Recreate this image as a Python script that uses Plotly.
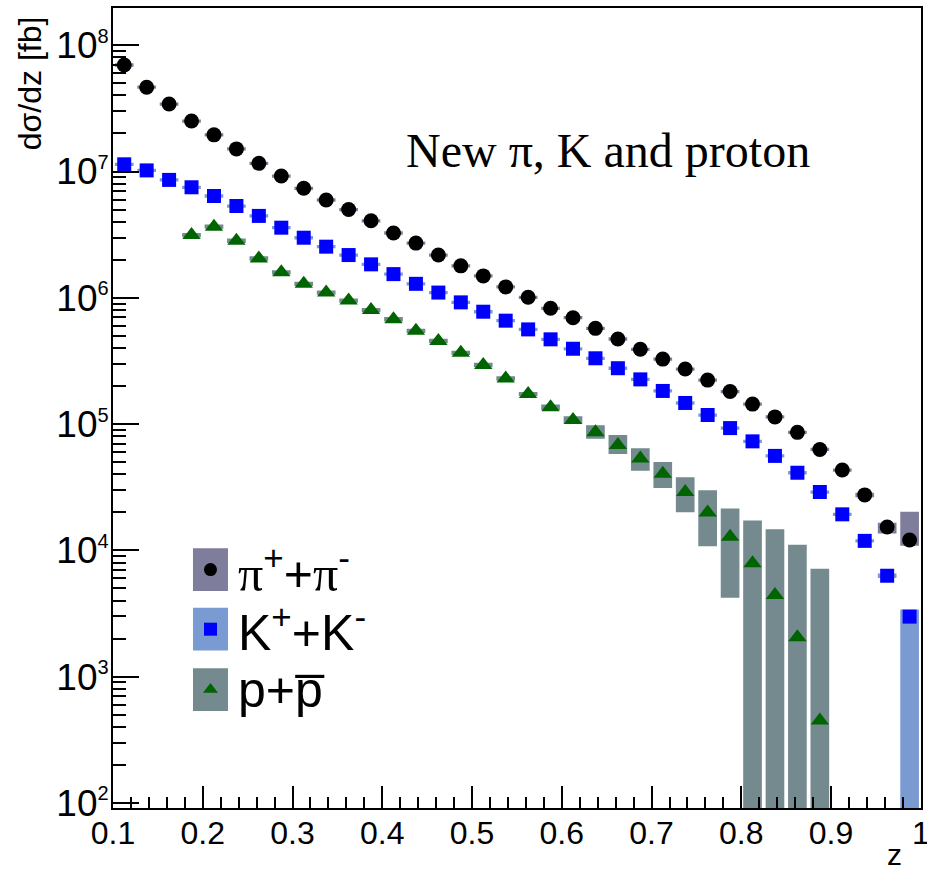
import plotly.graph_objects as go

# bin centres in z (bin width 0.025)
z = [0.1125, 0.1375, 0.1625, 0.1875, 0.2125, 0.2375, 0.2625, 0.2875, 0.3125,
     0.3375, 0.3625, 0.3875, 0.4125, 0.4375, 0.4625, 0.4875, 0.5125, 0.5375,
     0.5625, 0.5875, 0.6125, 0.6375, 0.6625, 0.6875, 0.7125, 0.7375, 0.7625,
     0.7875, 0.8125, 0.8375, 0.8625, 0.8875, 0.9125, 0.9375, 0.9625, 0.9875]

# pi+ + pi-  dsigma/dz [fb]
pi_val = [6.97e7, 4.65e7, 3.42e7, 2.51e7, 1.95e7, 1.51e7, 1.16e7, 9.2e6, 7.36e6,
          5.95e6, 5.0e6, 4.07e6, 3.26e6, 2.71e6, 2.18e6, 1.79e6, 1.49e6, 1.22e6,
          1.01e6, 8.26e5, 6.96e5, 5.73e5, 4.72e5, 3.91e5, 3.27e5, 2.73e5, 2.23e5,
          1.81e5, 1.44e5, 1.14e5, 8.6e4, 6.3e4, 4.33e4, 2.75e4, 1.53e4, 1.21e4]
# relative uncertainties in percent (up / down)
pi_up = [3, 3, 3, 3, 3, 3, 3, 3, 3, 3, 3, 3, 3, 3, 3, 3, 3, 3,
         3, 3, 3, 3, 3, 3, 3, 3, 3, 3, 3, 3, 3, 3, 3, 4, 8, 67]
pi_dn = [3, 3, 3, 3, 3, 3, 3, 3, 3, 3, 3, 3, 3, 3, 3, 3, 3, 3,
         3, 3, 3, 3, 3, 3, 3, 3, 3, 3, 3, 3, 3, 3, 3, 4, 11, 10]

# K+ + K-
k_val = [1.14e7, 1.02e7, 8.58e6, 7.5e6, 6.4e6, 5.33e6, 4.45e6, 3.59e6, 2.99e6,
         2.54e6, 2.18e6, 1.84e6, 1.54e6, 1.29e6, 1.10e6, 9.2e5, 7.76e5, 6.59e5,
         5.62e5, 4.69e5, 3.95e5, 3.32e5, 2.77e5, 2.26e5, 1.83e5, 1.47e5, 1.18e5,
         9.3e4, 7.3e4, 5.6e4, 4.12e4, 2.9e4, 1.93e4, 1.19e4, 6.3e3, 2.99e3]
k_up = [3, 3, 3, 3, 3, 3, 3, 3, 3, 3, 3, 3, 3, 3, 3, 3, 3, 3,
        3, 3, 3, 3, 3, 3, 3, 3, 3, 3, 3, 3, 3, 3, 3, 3, 4, 14]
k_dn = [3, 3, 3, 3, 3, 3, 3, 3, 3, 3, 3, 3, 3, 3, 3, 3, 3, 3,
        3, 3, 3, 3, 3, 3, 3, 3, 3, 3, 3, 3, 3, 3, 3, 3, 4, 99]

# p + pbar (starts at z = 0.1875)
p_z = z[3:32]
p_val = [3.14e6, 3.66e6, 2.83e6, 2.05e6, 1.59e6, 1.29e6, 1.10e6, 9.5e5, 8.0e5,
         6.76e5, 5.48e5, 4.55e5, 3.67e5, 2.94e5, 2.30e5, 1.73e5, 1.36e5, 1.08e5,
         8.6e4, 6.83e4, 5.33e4, 4.05e4, 2.9e4, 2.0e4, 1.28e4, 7.9e3, 4.43e3,
         2.05e3, 449]
p_up = [4, 4, 4, 4, 4, 4, 4, 4, 4, 4, 4, 4, 4, 4, 4, 4, 5, 7,
        14, 20, 21, 24, 31, 50, 68, 118, 232, 441, 1495]
p_dn = [4, 4, 4, 4, 4, 4, 4, 4, 4, 4, 4, 4, 4, 4, 4, 4, 5, 7,
        11, 15, 20, 23, 31, 46, 67, 99, 99, 99, 99]

BOX_HALF = 0.0104

C_PI_BOX = "#7f7d9c"
C_K_BOX = "#7a9ad2"
C_P_BOX = "#748a8e"
C_PI = "#000000"
C_K = "#0000ff"
C_P = "#006400"


def box_path(xs, vals, up, dn):
    bx, by = [], []
    for x, v, u, d in zip(xs, vals, up, dn):
        lo = v * (1 - d / 100.0)
        hi = v * (1 + u / 100.0)
        bx += [x - BOX_HALF, x + BOX_HALF, x + BOX_HALF, x - BOX_HALF, x - BOX_HALF, None]
        by += [lo, lo, hi, hi, lo, None]
    return bx, by


fig = go.Figure()

for xs, vals, up, dn, col in [(z, pi_val, pi_up, pi_dn, C_PI_BOX),
                              (z, k_val, k_up, k_dn, C_K_BOX),
                              (p_z, p_val, p_up, p_dn, C_P_BOX)]:
    bx, by = box_path(xs, vals, up, dn)
    fig.add_trace(go.Scatter(x=bx, y=by, mode="lines", fill="toself",
                             fillcolor=col, line=dict(width=0, color=col),
                             hoverinfo="skip", showlegend=False))

fig.add_trace(go.Scatter(x=z, y=pi_val, mode="markers", showlegend=False,
                         marker=dict(symbol="circle", size=15, color=C_PI)))
fig.add_trace(go.Scatter(x=z, y=k_val, mode="markers", showlegend=False,
                         marker=dict(symbol="square", size=14, color=C_K)))
fig.add_trace(go.Scatter(x=p_z, y=p_val, mode="markers", showlegend=False,
                         marker=dict(symbol="triangle-up", size=16, color=C_P)))

# hand-built legend: swatches (paper coords) + marker glyphs on an overlay axis pair
leg_rows = [0.298, 0.2235, 0.148]
leg_cols = [C_PI_BOX, C_K_BOX, C_P_BOX]
leg_syms = ["circle", "square", "triangle-up"]
leg_mcol = [C_PI, C_K, C_P]
leg_text = ["<span style='font-family:Liberation Serif'>π</span><sup>+</sup>+"
            "<span style='font-family:Liberation Serif'>π</span><sup>-</sup>",
            "K<sup>+</sup>+K<sup>-</sup>",
            "p+p\u0305"]
sw_x0, sw_x1 = 0.099, 0.1423
sw_h = 0.0535
shapes = []
for yc, col in zip(leg_rows, leg_cols):
    shapes.append(dict(type="rect", xref="paper", yref="paper",
                       x0=sw_x0, x1=sw_x1, y0=yc - sw_h / 2, y1=yc + sw_h / 2,
                       fillcolor=col, line=dict(width=0), layer="below"))
for yc, sym, mc in zip(leg_rows, leg_syms, leg_mcol):
    fig.add_trace(go.Scatter(x=[(sw_x0 + sw_x1) / 2], y=[yc], xaxis="x2", yaxis="y2",
                             mode="markers", showlegend=False, hoverinfo="skip",
                             marker=dict(symbol=sym, size=13, color=mc)))

annotations = []
for yc, txt in zip(leg_rows, leg_text):
    annotations.append(dict(xref="paper", yref="paper", x=0.1522, y=yc,
                            xanchor="left", yanchor="middle", showarrow=False,
                            text=txt, font=dict(family="Liberation Sans", size=50,
                                                color="black")))

annotations.append(dict(xref="paper", yref="paper", x=0.3604, y=0.8225,
                        xanchor="left", yanchor="middle", showarrow=False,
                        text="New π, K and proton",
                        font=dict(family="Liberation Serif", size=48, color="black")))
annotations.append(dict(xref="paper", yref="paper", x=-0.1027, y=0.906,
                        xanchor="center", yanchor="middle", showarrow=False,
                        textangle=-90, text="dσ/dz [fb]",
                        font=dict(family="Liberation Sans", size=32, color="black")))
annotations.append(dict(xref="paper", yref="paper", x=0.9678, y=-0.058,
                        xanchor="center", yanchor="middle", showarrow=False,
                        text="z", font=dict(family="Liberation Sans", size=30,
                                            color="black")))

x_ticks = [0.1, 0.2, 0.3, 0.4, 0.5, 0.6, 0.7, 0.8, 0.9, 1.0]
x_tick_text = ["0.1", "0.2", "0.3", "0.4", "0.5", "0.6", "0.7", "0.8", "0.9", "1"]
y_ticks = [1e2, 1e3, 1e4, 1e5, 1e6, 1e7, 1e8]
y_tick_text = ["10<sup><span style='font-size:20px'>%d</span></sup>" % e
               for e in [2, 3, 4, 5, 6, 7, 8]]
y_minor = [m * 10 ** e for e in range(2, 9) for m in range(2, 10)]
x_minor = [round(0.1 + 0.02 * i, 2) for i in range(46)]

fig.update_layout(
    width=927, height=871,
    margin=dict(l=113, r=6, t=8, b=63, autoexpand=False),
    paper_bgcolor="white", plot_bgcolor="white",
    font=dict(family="Liberation Sans", color="black"),
    showlegend=False,
    shapes=shapes,
    annotations=annotations,
    xaxis=dict(range=[0.1, 1.0002], tickvals=x_ticks, ticktext=x_tick_text,
               ticks="inside", ticklen=22, tickwidth=2, tickcolor="black",
               showline=True, linecolor="black", linewidth=2, mirror=True,
               showgrid=False, zeroline=False, automargin=False,
               tickfont=dict(size=32, family="Liberation Sans"),
               ticklabelstandoff=-4, ticklabeloverflow="allow",
               minor=dict(tickvals=x_minor, ticks="inside", ticklen=11,
                          tickwidth=1.5, tickcolor="black", showgrid=False)),
    yaxis=dict(type="log", range=[1.9604, 8.2945], tickvals=y_ticks,
               ticktext=y_tick_text,
               ticks="inside", ticklen=26, tickwidth=2, tickcolor="black",
               showline=True, linecolor="black", linewidth=2, mirror=True,
               showgrid=False, zeroline=False, automargin=False,
               tickfont=dict(size=37, family="Liberation Sans"),
               ticklabelstandoff=-5, ticklabeloverflow="allow",
               minor=dict(tickvals=y_minor, ticks="inside", ticklen=13,
                          tickwidth=1.5, tickcolor="black", showgrid=False)),
    xaxis2=dict(range=[0, 1], overlaying="x", visible=False, anchor="y2"),
    yaxis2=dict(range=[0, 1], overlaying="y", visible=False, anchor="x2"),
)

fig.write_html("out.html")
